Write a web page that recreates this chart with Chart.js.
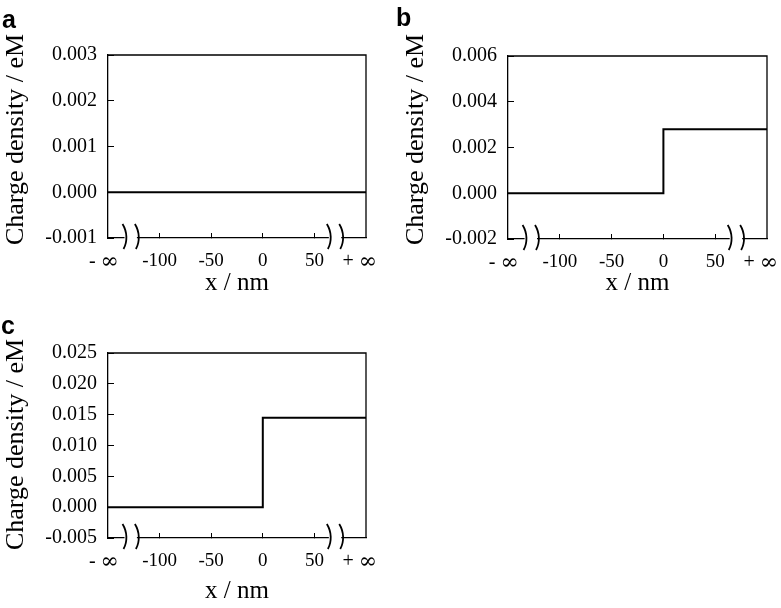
<!DOCTYPE html>
<html lang="en">
<head>
<meta charset="UTF-8">
<title>Charge density profiles</title>
<script src="https://cdn.jsdelivr.net/npm/chart.js"></script>
<style>
    body { margin: 0; background: #fff; width: 781px; height: 608px; position: relative; overflow: hidden; }
    .panel { position: absolute; }
    .tag { position: absolute; font-family: "Liberation Sans", Arial, sans-serif; font-weight: bold; font-size: 25px; line-height: 1; }
</style>
</head>
<body>
    <div class="panel" style="left:0; top:0"><canvas id="chartA" width="390" height="300"></canvas></div>
    <div class="panel" style="left:400px; top:0"><canvas id="chartB" width="381" height="300"></canvas></div>
    <div class="panel" style="left:0; top:300px"><canvas id="chartC" width="390" height="308"></canvas></div>

    <div class="tag" style="left:2px; top:7px">a</div>
    <div class="tag" style="left:396px; top:5px">b</div>
    <div class="tag" style="left:1px; top:313px">c</div>

<script>
// x positions (nm) where the profile changes, and the charge density there
const stepX = [-150, 0, 100];
const densityA = [0, 0, 0];
const densityB = [0, 0.0028, 0.0028];
const densityC = [0, 0.0145, 0.0145];

// axis ticks
const xTicks = [-100, -50, 0, 50];
const yTicksA = [-0.001, 0, 0.001, 0.002, 0.003];
const yTicksB = [-0.002, 0, 0.002, 0.004, 0.006];
const yTicksC = [-0.005, 0, 0.005, 0.01, 0.015, 0.02, 0.025];

// infinity labels and axis breaks (in x units)
const infSigns = ['-', '+'];
const infAt = [-154, 94];
const breakPairs = [[-134, -122], [64, 76]];

const SERIF = '"Liberation Serif", "Times New Roman", serif';
const TICK_LEN = -5;      // negative -> tick marks point into the plot
const X_PAD = 17;
const TICK_FONT = 19;
const Y_TITLE = 'Charge density / eM';

// frame, axis breaks, y title and the +/- infinity labels
const decorPlugin = {
    id: 'decor',
    afterDraw(chart, args, opts) {
        const ctx = chart.ctx;
        const area = chart.chartArea;
        const xs = chart.scales.x;
        ctx.save();
        ctx.strokeStyle = '#000';
        ctx.lineWidth = 1.3;
        ctx.beginPath();
        ctx.moveTo(area.left, area.top);
        ctx.lineTo(area.right, area.top);
        ctx.lineTo(area.right, area.bottom);
        ctx.stroke();

        // axis breaks
        const yb = area.bottom;
        breakPairs.forEach(pair => {
            const x1 = xs.getPixelForValue(pair[0]);
            const x2 = xs.getPixelForValue(pair[1]);
            ctx.fillStyle = '#fff';
            ctx.fillRect(x1, yb - 2, x2 - x1, 4);
            ctx.lineWidth = 1.8;
            [x1, x2].forEach(x => {
                ctx.beginPath();
                ctx.moveTo(x - 2, yb - 14);
                ctx.bezierCurveTo(x + 3, yb - 6, x + 3, yb + 4, x - 1, yb + 11);
                ctx.stroke();
            });
        });

        // infinity labels: sign in the tick font, infinity a bit wider
        ctx.fillStyle = '#000';
        ctx.textBaseline = 'middle';
        ctx.textAlign = 'left';
        const ly = xs.top + TICK_LEN + X_PAD + TICK_FONT * 1.2 / 2;
        const signFont = '20px ' + SERIF;
        const infFont = '22px "DejaVu Serif", serif';
        infSigns.forEach((sign, i) => {
            ctx.font = signFont;
            const w1 = ctx.measureText(sign + ' ').width;
            ctx.font = infFont;
            const w2 = ctx.measureText('\u221E').width;
            let x = xs.getPixelForValue(infAt[i]) - (w1 + w2) / 2;
            ctx.font = signFont;
            ctx.fillText(sign + ' ', x, ly);
            ctx.font = infFont;
            ctx.fillText('\u221E', x + w1, ly + 1);
        });

        // rotated y title
        ctx.font = '26px ' + SERIF;
        ctx.textAlign = 'center';
        ctx.textBaseline = 'middle';
        ctx.translate(16, (area.top + area.bottom) / 2 + opts.titleShift);
        ctx.rotate(-Math.PI / 2);
        ctx.fillText(Y_TITLE, 0, 0);
        ctx.restore();
    }
};

function makePanel(id, values, yTicks, geo) {
    const ctx = document.getElementById(id).getContext('2d');
    return new Chart(ctx, {
        type: 'line',
        data: {
            datasets: [{
                data: stepX.map((x, i) => ({ x: x, y: values[i] })),
                borderColor: '#000',
                borderWidth: 2,
                pointRadius: 0,
                stepped: true,
                fill: false
            }]
        },
        options: {
            responsive: false,
            animation: false,
            devicePixelRatio: 1,
            layout: { padding: { top: geo.top, right: geo.right, left: 0, bottom: 0 } },
            plugins: {
                legend: { display: false },
                tooltip: { enabled: false },
                decor: { titleShift: geo.titleShift }
            },
            scales: {
                x: {
                    type: 'linear',
                    min: stepX[0],
                    max: stepX[stepX.length - 1],
                    afterBuildTicks: s => { s.ticks = xTicks.map(v => ({ value: v })); },
                    afterFit: s => { s.height = geo.xHeight; },
                    grid: { drawOnChartArea: false, color: '#000', lineWidth: 1, tickLength: TICK_LEN },
                    border: { color: '#000', width: 1.3 },
                    ticks: {
                        color: '#000',
                        padding: X_PAD,
                        maxRotation: 0,
                        autoSkip: false,
                        font: { family: SERIF, size: TICK_FONT },
                        callback: v => String(v)
                    },
                    title: {
                        display: true,
                        text: 'x / nm',
                        color: '#000',
                        font: { family: SERIF, size: 25 },
                        padding: { top: 0, bottom: geo.xTitlePad }
                    }
                },
                y: {
                    min: yTicks[0],
                    max: yTicks[yTicks.length - 1],
                    afterBuildTicks: s => { s.ticks = yTicks.map(v => ({ value: v })); },
                    afterFit: s => { s.width = geo.yWidth; },
                    grid: { drawOnChartArea: false, color: '#000', lineWidth: 1, tickLength: -6 },
                    border: { color: '#000', width: 1.3 },
                    ticks: {
                        color: '#000',
                        padding: 17,
                        font: { family: SERIF, size: 20 },
                        callback: v => Number(v).toFixed(3)
                    },
                    title: { display: false }
                }
            }
        },
        plugins: [decorPlugin]
    });
}

makePanel('chartA', densityA, yTicksA, { top: 55, right: 24, yWidth: 108, xHeight: 62, xTitlePad: 2, titleShift: -7 });
makePanel('chartB', densityB, yTicksB, { top: 56, right: 14, yWidth: 108, xHeight: 61, xTitlePad: 2, titleShift: -8 });
makePanel('chartC', densityC, yTicksC, { top: 53, right: 24, yWidth: 108, xHeight: 70, xTitlePad: 2, titleShift: -1 });
</script>
</body>
</html>
